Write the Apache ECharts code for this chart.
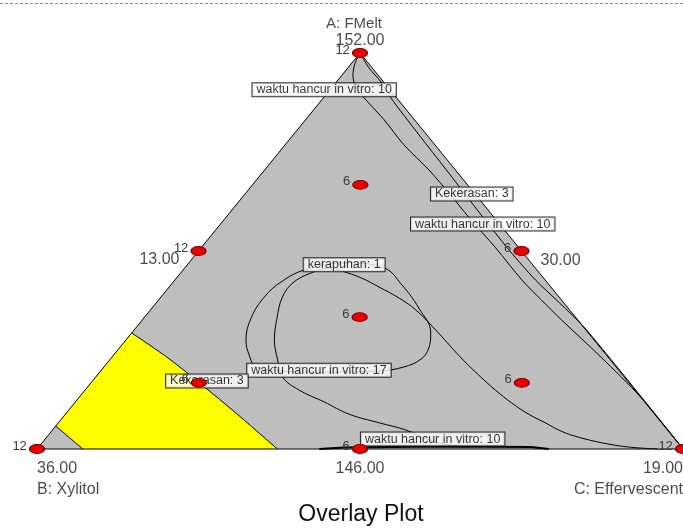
<!DOCTYPE html>
<html><head><meta charset="utf-8">
<script src="https://cdn.jsdelivr.net/npm/echarts@6/dist/echarts.min.js"></script>
<style>html,body{margin:0;padding:0;background:#fff}#c{width:683px;height:528px}</style>
</head><body><div id="c"></div>
<script>
// All compositions are ternary fractions given as [A, C]  (B = 1 - A - C)
const componentNames = ['A: FMelt', 'B: Xylitol', 'C: Effervescent'];
const vertexValues = ['152.00', '36.00', '19.00'];
const edgeValues = ['13.00', '30.00', '146.00']; // A-B edge, A-C edge, B-C edge
const triangle = [[1, 0], [0, 0], [0, 1]];

const designPoints = [[1, 0], [0, 0], [0, 1], [0.5, 0], [0.5, 0.5], [0, 0.5],
  [0.667, 0.167], [0.333, 0.333], [0.167, 0.167], [0.167, 0.667]];
const designCounts = [12, 12, 12, 12, 6, 6, 6, 6, 6, 6];

const feasibleRegion = [[0.293, 0], [0.058, 0], [0, 0.071], [0, 0.372], [0.083, 0.272],
  [0.167, 0.168], [0.232, 0.085], [0.293, 0]];

const contourWaktu10Top = [[1, 0], [0.975, 0.005], [0.944, 0.017], [0.912, 0.038], [0.881, 0.069],
  [0.831, 0.122], [0.768, 0.184], [0.705, 0.254], [0.641, 0.320], [0.586, 0.375], [0.508, 0.456],
  [0.427, 0.537], [0.376, 0.593], [0.326, 0.649], [0.232, 0.757], [0.131, 0.869], [0, 1]];
const contourKekerasan3Right = [[1, 0], [0.962, 0.033], [0.927, 0.069], [0.886, 0.105], [0.793, 0.195],
  [0.705, 0.281], [0.586, 0.397], [0.503, 0.479], [0.427, 0.558], [0.371, 0.622], [0.301, 0.700], [0, 1]];
const contourWaktu17 = [[0.194, 0.340], [0.197, 0.284], [0.207, 0.236], [0.237, 0.210], [0.275, 0.186],
  [0.331, 0.166], [0.384, 0.160], [0.422, 0.167], [0.452, 0.188], [0.470, 0.241], [0.457, 0.309],
  [0.414, 0.358], [0.356, 0.413], [0.293, 0.463], [0.255, 0.479], [0.227, 0.481], [0.207, 0.464],
  [0.197, 0.431], [0.194, 0.340]];
const contourKerapuhan1 = [[0.005, 0.666], [0.010, 0.632], [0.025, 0.591], [0.048, 0.547], [0.066, 0.497],
  [0.088, 0.439], [0.119, 0.385], [0.149, 0.331], [0.182, 0.289], [0.225, 0.260], [0.275, 0.230],
  [0.326, 0.208], [0.384, 0.188], [0.422, 0.187], [0.449, 0.207], [0.457, 0.224], [0.449, 0.248],
  [0.432, 0.286], [0.409, 0.325], [0.381, 0.370], [0.351, 0.411], [0.293, 0.475], [0.237, 0.534],
  [0.187, 0.590], [0.149, 0.635], [0.116, 0.677], [0.088, 0.717], [0.066, 0.754], [0.045, 0.789],
  [0.030, 0.823], [0.015, 0.869], [0.005, 0.913], [0, 0.961]];
const contourWaktu10Bottom = [[0, 0.437], [0.004, 0.473], [0.006, 0.619], [0.005, 0.763], [0, 0.792]];
const contourKekerasan3Left = [[0.293, 0], [0.232, 0.085], [0.167, 0.168], [0.083, 0.272], [0, 0.372]];
const contourCorner = [[0.058, 0], [0, 0.071]];

const contourLabels = ['waktu hancur in vitro: 10', 'Kekerasan: 3', 'waktu hancur in vitro: 10',
  'kerapuhan: 1', 'waktu hancur in vitro: 17', 'Kekerasan: 3', 'waktu hancur in vitro: 10'];
const contourLabelAt = [[0.907, -0.009], [0.644, 0.351], [0.568, 0.406], [0.465, 0.243],
  [0.199, 0.337], [0.172, 0.177], [0.025, 0.600]];

function tern(p) { return [p[1] + p[0] / 2, p[0]]; }
const FONT = '"Liberation Sans", Arial, sans-serif';

function polySeries(points, fill, stroke, z) {
  return {
    type: 'custom', coordinateSystem: 'cartesian2d', silent: true, z: z, clip: false,
    data: [[0, 0]],
    renderItem: function (params, api) {
      return {
        type: 'polygon',
        shape: { points: points.map(function (p) { return api.coord(tern(p)); }) },
        style: { fill: fill, stroke: stroke || null, lineWidth: stroke ? 1 : 0 }
      };
    }
  };
}
function lineSeries(points, width, smooth) {
  return {
    type: 'line', data: points.map(tern), symbol: 'none', showSymbol: false, smooth: smooth,
    clip: false, silent: true, z: 3, lineStyle: { color: '#000', width: width }
  };
}

const axisTextItems = [
  { value: tern(triangle[0]), label: { formatter: vertexValues[0], offset: [0, -12], fontSize: 16 } },
  { value: tern(triangle[0]), label: { formatter: componentNames[0], offset: [-6, -29], fontSize: 15 } },
  { value: tern(triangle[1]), label: { formatter: vertexValues[1], align: 'left', offset: [0, 20] } },
  { value: tern(triangle[1]), label: { formatter: componentNames[1], align: 'left', offset: [0, 41] } },
  { value: tern(triangle[2]), label: { formatter: vertexValues[2], align: 'right', offset: [0, 20] } },
  { value: tern(triangle[2]), label: { formatter: componentNames[2], align: 'right', offset: [0, 41] } },
  { value: tern([0.5, 0]), label: { formatter: edgeValues[0], align: 'right', offset: [-19, 9] } },
  { value: tern([0.5, 0.5]), label: { formatter: edgeValues[1], align: 'left', offset: [19, 10] } },
  { value: tern([0, 0.5]), label: { formatter: edgeValues[2], offset: [0, 20] } }
];

const chart = echarts.init(document.getElementById('c'));
chart.setOption({
  animation: false,
  backgroundColor: '#fff',
  grid: { left: 37, top: 53, width: 648, height: 396 },
  xAxis: { type: 'value', min: 0, max: 1, show: false },
  yAxis: { type: 'value', min: 0, max: 1, show: false },
  graphic: [
    { type: 'line', shape: { x1: 0, y1: 3.5, x2: 683, y2: 3.5 }, style: { stroke: '#8c8c8c', lineWidth: 1, lineDash: [3, 2] } },
    { type: 'text', x: 361, y: 515, style: { text: 'Overlay Plot', font: '23px ' + FONT, fill: '#111', align: 'center', verticalAlign: 'middle' } }
  ],
  series: [
    polySeries(triangle, '#BEBEBE', null, 1),
    polySeries(feasibleRegion, '#FFFF00', null, 2),
    lineSeries(contourWaktu10Top, 1, 0.3),
    lineSeries(contourKekerasan3Right, 1, 0.3),
    lineSeries(contourWaktu17, 1, 0.4),
    lineSeries(contourKerapuhan1, 1, 0.4),
    lineSeries(contourWaktu10Bottom, 2, 0),
    lineSeries(contourKekerasan3Left, 1, 0.3),
    lineSeries(contourCorner, 1, 0),
    polySeries(triangle, 'none', '#000', 4),
    {
      type: 'scatter', z: 6, silent: true, clip: false, symbolSize: 0,
      data: contourLabelAt.map(tern),
      label: {
        show: true, position: 'inside', color: '#000', fontSize: 12.5, fontFamily: FONT, lineHeight: 12,
        backgroundColor: '#fff', borderColor: '#000', borderWidth: 1, padding: [1, 4, 0, 4],
        formatter: function (p) { return contourLabels[p.dataIndex]; }
      }
    },
    {
      type: 'scatter', z: 10, silent: true, clip: false,
      data: designPoints.map(tern), symbol: 'circle', symbolSize: [15, 9],
      itemStyle: { color: '#E60000', borderColor: '#7a0000', borderWidth: 1, opacity: 1 },
      label: {
        show: true, position: 'left', distance: 2, offset: [0, -3], fontSize: 13, fontFamily: FONT, color: '#3a3a3a',
        formatter: function (p) { return String(designCounts[p.dataIndex]); }
      }
    },
    {
      type: 'scatter', z: 10, silent: true, clip: false, symbolSize: 0,
      data: axisTextItems,
      label: { show: true, position: 'inside', fontSize: 16, fontFamily: FONT, color: '#1a1a1a' }
    }
  ]
});
</script></body></html>
